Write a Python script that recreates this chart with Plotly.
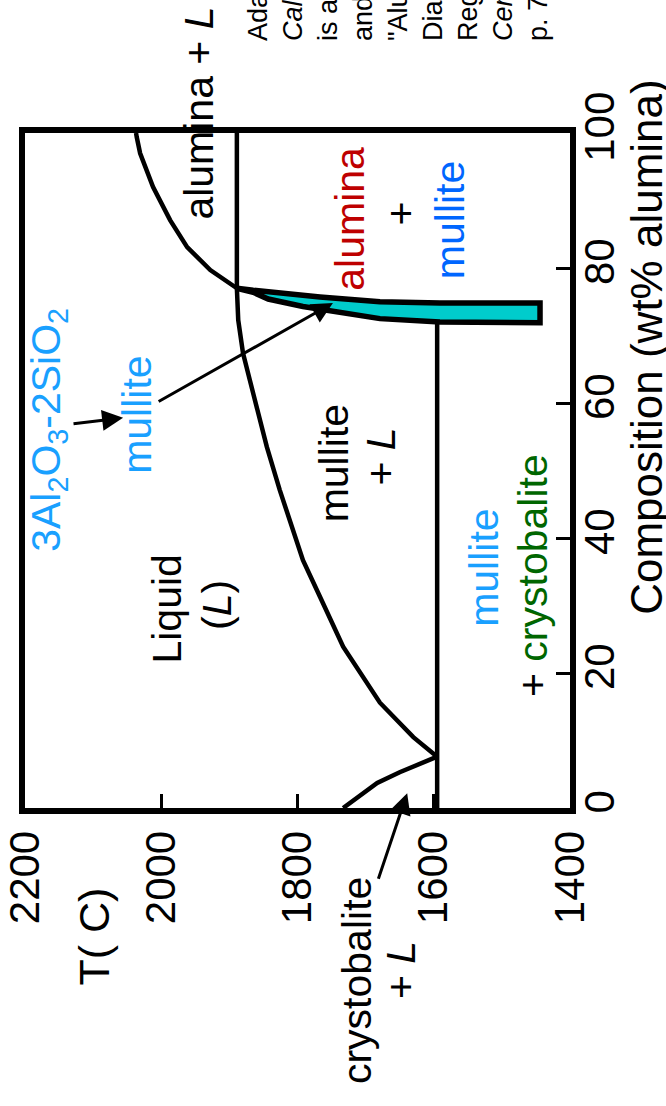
import plotly.graph_objects as go

# ---------------- data (composition wt% alumina, temperature C) ----------------
liq_si_comp = [0, 3.7, 5.3, 7.1, 7.6]
liq_si_T = [1733, 1683, 1650, 1610, 1595]

liq_mul_comp = [7.6, 10.5, 15.6, 23.9, 31.3, 36.7, 47.1, 53.5, 63.4, 67.4, 72.3, 77.0]
liq_mul_T = [1595, 1630, 1679, 1733, 1767, 1792, 1826, 1845, 1870, 1880, 1887, 1889]

liq_al_comp = [77.0, 79.7, 83.1, 87.1, 92.0, 97.0, 99.4, 100.0]
liq_al_T = [1889, 1928, 1962, 1987, 2012, 2031, 2036, 2037]

peritectic_comp = [77.0, 100.0]
peritectic_T = [1889, 1889]

eutectic_comp = [0.0, 72.0]
eutectic_T = [1595, 1595]

mullite_comp = [77.0, 76.7, 75.7, 75.0, 74.8, 74.8, 71.9, 72.0, 72.5, 73.7, 74.3, 75.4, 76.4, 77.0]
mullite_T = [1889, 1865, 1767, 1679, 1591, 1444, 1444, 1591, 1679, 1760, 1792, 1843, 1865, 1889]

T_ticks = [2200, 2000, 1800, 1600, 1400]
comp_ticks = [0, 20, 40, 60, 80, 100]

FONT = "Liberation Sans, Arial, Helvetica, sans-serif"
RED = "#BE0000"
BLUE = "#0066FF"
SKY = "#19A0FF"
GREEN = "#006600"
CYAN = "#00CCCC"

fig = go.Figure()

line_style = dict(color="black", width=4.5)
for xs, ys in [(liq_si_T, liq_si_comp), (liq_mul_T, liq_mul_comp), (liq_al_T, liq_al_comp),
               (peritectic_T, peritectic_comp), (eutectic_T, eutectic_comp)]:
    fig.add_trace(go.Scatter(x=xs, y=ys, mode="lines", line=line_style,
                             hoverinfo="skip", showlegend=False))

fig.add_trace(go.Scatter(x=mullite_T, y=mullite_comp, mode="lines", fill="toself",
                         fillcolor=CYAN, line=dict(color="black", width=5.5),
                         hoverinfo="skip", showlegend=False))

ann = []


def label(text, x, y, size=41, color="black", ref="data", **kw):
    r = "x" if ref == "data" else "paper"
    d = dict(text=text, x=x, y=y, xref=r, yref="y" if ref == "data" else "paper",
             showarrow=False, textangle=-90,
             font=dict(family=FONT, size=size, color=color), xanchor="center", yanchor="middle")
    d.update(kw)
    ann.append(d)


# labels inside the plot (data coordinates: T, composition)
label("alumina", 1723, 87.3, color=RED)
label("+", 1648, 88.1)
label("mullite", 1576, 87.1, color=BLUE)
label("3Al<sub>2</sub>O<sub>3</sub>-2SiO<sub>2</sub>", 2165, 56.0, color=SKY)
label("mullite", 2036, 58.2, color=SKY)
label("Liquid", 1992, 29.5)
label("(<i>L</i>)", 1918, 30.1)
label("mullite", 1746, 51.1)
label("+ <i>L</i>", 1677, 52.1)
label("mullite", 1526, 35.6, color=SKY)
label("+ <span style='color:%s'>crystobalite</span>" % GREEN, 1454, 34.4)

# labels outside the plot (paper coordinates)
label("alumina + <i>L</i>", 0.319, 1.03, ref="paper")
label("crystobalite", 0.609, -0.255, ref="paper")
label("+ <i>L</i>", 0.69, -0.24, ref="paper")
label("T( C)", 0.126, -0.191, size=43, ref="paper")
label("Composition (wt% alumina)", 1.141, 0.683, size=44, ref="paper")

citation = ("Adapted from Fig. 12.27,<br>"
            "<i>Callister & Rethwisch 8e.</i> (Fig. 12.27<br>"
            "is adapted from F.J. Klug, S. Prochazka,<br>"
            "and R.H. Doremus,<br>"
            "\"Alumina-Silica Phase<br>"
            "Diagram in the Mullite<br>"
            "Region\", <i>J. American</i><br>"
            "<i>Ceramic Society</i>, 70 [10],<br>"
            "p. 758, 1987.)")
label(citation, 0.395, 1.133, size=27, ref="paper", xanchor="left", yanchor="bottom", align="left")

# arrows
for tail_T, tail_c, tip_T, tip_c in [(2006, 60.1, 1748, 74.8),
                                     (2131, 56.9, 2056, 57.8),
                                     (1682, -10.7, 1639, 2.2)]:
    ann.append(dict(text="", x=tip_T, y=tip_c, ax=tail_T, ay=tail_c, xref="x", yref="y",
                    axref="x", ayref="y", showarrow=True, arrowhead=2, arrowsize=1.4,
                    arrowwidth=3, arrowcolor="black", standoff=0, startstandoff=0))

axis_common = dict(showgrid=False, zeroline=False, showline=True, mirror=True,
                   linecolor="black", linewidth=6, ticks="inside", ticklen=14,
                   tickwidth=3, tickcolor="black", tickangle=-90, automargin=False,
                   tickfont=dict(family=FONT, size=42, color="black"))

fig.update_layout(
    template="none",
    width=666, height=1106, autosize=False,
    margin=dict(l=25, r=96, t=133, b=298),
    paper_bgcolor="white", plot_bgcolor="white",
    xaxis=dict(range=[2200, 1400], tickvals=T_ticks, ticktext=[str(v) for v in T_ticks],
               **axis_common),
    yaxis=dict(range=[0, 100], side="right", tickvals=comp_ticks, ticklabelstandoff=-12,
               ticktext=[str(v) for v in comp_ticks], **axis_common),
    annotations=ann,
    showlegend=False,
)

fig.write_html("out.html")
